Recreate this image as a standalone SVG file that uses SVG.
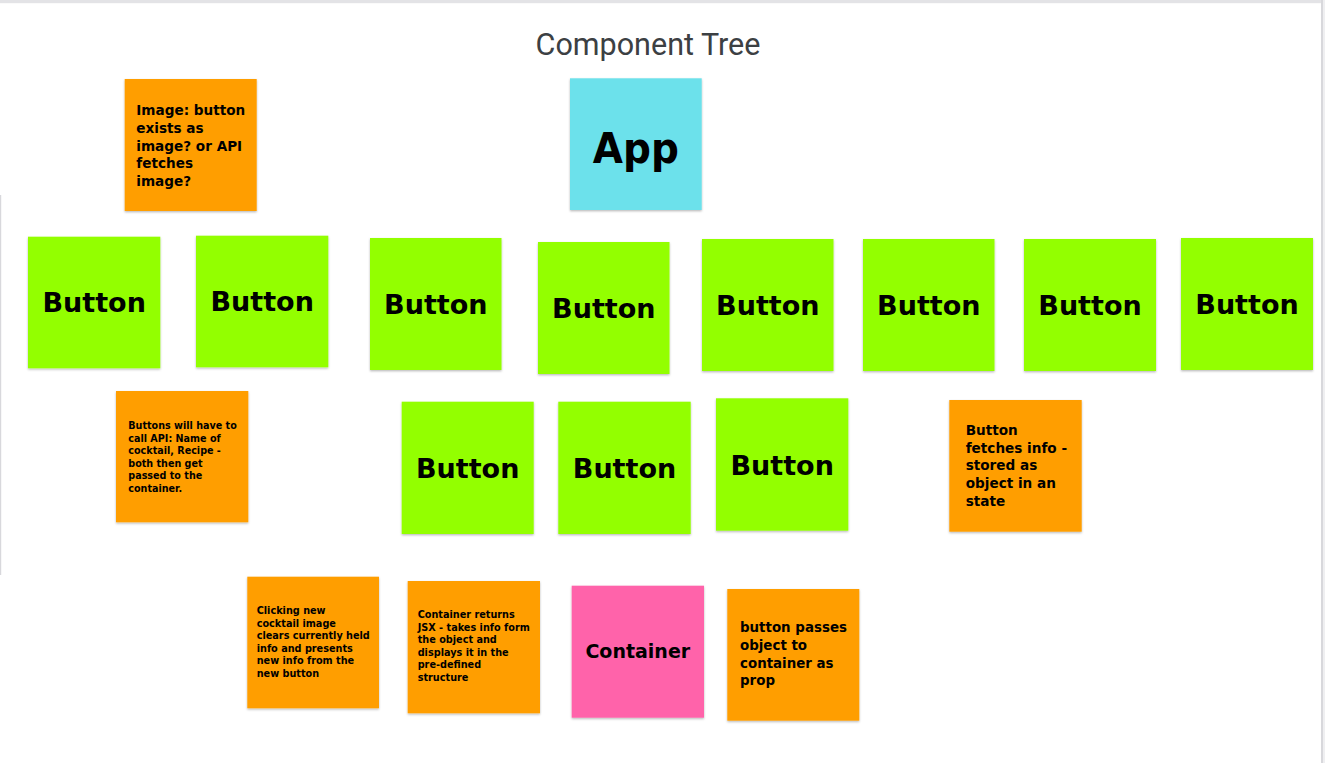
<svg xmlns="http://www.w3.org/2000/svg" width="1325" height="763" viewBox="0 0 1325 763">
<defs>
<filter id="sh" x="-5%" y="-5%" width="110%" height="115%">
<feDropShadow dx="0" dy="1.2" stdDeviation="0.9" flood-color="#000" flood-opacity="0.28"/>
</filter>
</defs>
<style>
.note{filter:url(#sh);}
.green{fill:#93ff00;}
.orange{fill:#ff9e00;}
.cyan{fill:#6ce1eb;}
.pink{fill:#ff63aa;}
text{font-family:"DejaVu Sans","Liberation Sans",sans-serif;font-weight:bold;fill:#000;}
.big{font-size:27px;text-anchor:middle;}
.s14{font-size:13.6px;}
.s10{font-size:9.7px;}
.title{font-family:Roboto,"Liberation Sans",sans-serif;font-weight:normal;font-size:30.5px;fill:#3c4043;text-anchor:middle;}
</style>
<rect x="0" y="0" width="1325" height="763" fill="#ffffff"/>
<rect x="0" y="0" width="1325" height="3.2" fill="#e3e3e6"/>
<rect x="1321" y="0" width="2" height="763" fill="#d8d8dc"/>
<rect x="1323" y="0" width="2" height="763" fill="#efeff1"/>
<rect x="0" y="195" width="1.2" height="380" fill="#d8d8dc"/>

<text class="title" x="648" y="54.5">Component Tree</text>

<g id="connectors"></g>

<g id="app">
<rect class="note cyan" x="570" y="78.3" width="131.7" height="131.7"/>
<text x="635.8" y="163" style="font-size:42px;text-anchor:middle;" textLength="86" lengthAdjust="spacingAndGlyphs">App</text>
</g>

<g id="note-image">
<rect class="note orange" x="124.7" y="79" width="132" height="132"/>
<text class="s14" x="136.3"><tspan x="136.3" y="115">Image: button</tspan><tspan x="136.3" y="132.8">exists as</tspan><tspan x="136.3" y="150.5">image? or API</tspan><tspan x="136.3" y="168.2">fetches</tspan><tspan x="136.3" y="186">image?</tspan></text>
</g>

<g id="button1"><rect class="note green" x="28" y="236.7" width="132.3" height="131.6"/><text class="big" x="94.2" y="312.3">Button</text></g>
<g id="button2"><rect class="note green" x="196" y="235.7" width="132.3" height="131.6"/><text class="big" x="262.2" y="311.3">Button</text></g>
<g id="button3"><rect class="note green" x="370" y="238" width="131.5" height="132"/><text class="big" x="435.8" y="313.7">Button</text></g>
<g id="button4"><rect class="note green" x="538" y="242" width="131.5" height="132"/><text class="big" x="603.8" y="317.7">Button</text></g>
<g id="button5"><rect class="note green" x="702" y="239" width="131.5" height="132"/><text class="big" x="767.8" y="314.7">Button</text></g>
<g id="button6"><rect class="note green" x="863" y="239" width="131.5" height="132"/><text class="big" x="928.8" y="314.7">Button</text></g>
<g id="button7"><rect class="note green" x="1024" y="239" width="132" height="132"/><text class="big" x="1090" y="314.7">Button</text></g>
<g id="button8"><rect class="note green" x="1181" y="238" width="132" height="132"/><text class="big" x="1247" y="313.7">Button</text></g>

<g id="note-buttons-api">
<rect class="note orange" x="116" y="391" width="132.3" height="131.3"/>
<text class="s10" style="font-size:9.6px;"><tspan x="128.3" y="429.3">Buttons will have to</tspan><tspan x="128.3" y="441.8">call API: Name of</tspan><tspan x="128.3" y="454.3">cocktail, Recipe -</tspan><tspan x="128.3" y="466.8">both then get</tspan><tspan x="128.3" y="479.3">passed to the</tspan><tspan x="128.3" y="491.8">container.</tspan></text>
</g>

<g id="button9"><rect class="note green" x="401.7" y="401.7" width="132" height="132.3"/><text class="big" x="467.7" y="478.3">Button</text></g>
<g id="button10"><rect class="note green" x="558.3" y="401.7" width="132.4" height="132.3"/><text class="big" x="624.5" y="478.3">Button</text></g>
<g id="button11"><rect class="note green" x="716" y="398.3" width="132.3" height="132.4"/><text class="big" x="782.2" y="475">Button</text></g>

<g id="note-fetches">
<rect class="note orange" x="949.3" y="400" width="132.4" height="131.7"/>
<text class="s14"><tspan x="965.7" y="435">Button</tspan><tspan x="965.7" y="452.7">fetches info -</tspan><tspan x="965.7" y="470.4">stored as</tspan><tspan x="965.7" y="488.1">object in an</tspan><tspan x="965.7" y="505.8">state</tspan></text>
</g>

<g id="note-clicking">
<rect class="note orange" x="247.3" y="576.7" width="131.7" height="131.6"/>
<text class="s10"><tspan x="256.7" y="614.3">Clicking new</tspan><tspan x="256.7" y="626.8">cocktail image</tspan><tspan x="256.7" y="639.3">clears currently held</tspan><tspan x="256.7" y="651.8">info and presents</tspan><tspan x="256.7" y="664.3">new info from the</tspan><tspan x="256.7" y="676.8">new button</tspan></text>
</g>

<g id="note-container-returns">
<rect class="note orange" x="407.7" y="581" width="132.3" height="132.3"/>
<text class="s10"><tspan x="417.7" y="618.3">Container returns</tspan><tspan x="417.7" y="630.8">JSX - takes info form</tspan><tspan x="417.7" y="643.3">the object and</tspan><tspan x="417.7" y="655.8">displays it in the</tspan><tspan x="417.7" y="668.3">pre-defined</tspan><tspan x="417.7" y="680.8">structure</tspan></text>
</g>

<g id="container">
<rect class="note pink" x="571.7" y="585.7" width="132.3" height="132"/>
<text x="637.8" y="658.3" style="font-size:19px;text-anchor:middle;">Container</text>
</g>

<g id="note-passes">
<rect class="note orange" x="727.3" y="589" width="132" height="131.7"/>
<text style="font-size:13.4px;"><tspan x="740" y="632.3">button passes</tspan><tspan x="740" y="650">object to</tspan><tspan x="740" y="667.7">container as</tspan><tspan x="740" y="685.4">prop</tspan></text>
</g>
</svg>
